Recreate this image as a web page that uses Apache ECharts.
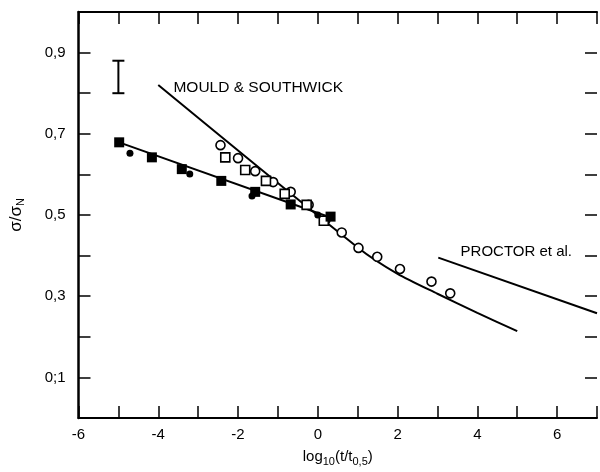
<!DOCTYPE html>
<html>
<head>
<meta charset="utf-8">
<script src="https://cdn.jsdelivr.net/npm/echarts@6/dist/echarts.min.js"></script>
<style>
  html, body { margin: 0; padding: 0; background: #fff; }
  #chart { width: 600px; height: 472px; }
</style>
</head>
<body>
<div id="chart"></div>
<script>
// data: x = log10(t/t0.5), y = sigma/sigmaN
const filledSquares = [[-4.98, 0.679], [-4.16, 0.642], [-3.41, 0.613], [-2.42, 0.584], [-1.57, 0.557], [-0.68, 0.526], [0.32, 0.496]];
const filledCircles = [[-4.71, 0.652], [-3.21, 0.601], [-1.65, 0.547], [0.0, 0.5]];
const openSquares = [[-2.32, 0.642], [-1.82, 0.611], [-1.3, 0.584], [-0.83, 0.552], [-0.28, 0.525], [0.15, 0.486]];
const openCircles = [[-2.44, 0.672], [-2.0, 0.64], [-1.57, 0.608], [-1.12, 0.581], [-0.68, 0.557], [-0.23, 0.525], [0.19, 0.487], [0.6, 0.457], [1.02, 0.419], [1.49, 0.397], [2.06, 0.367], [2.85, 0.336], [3.32, 0.307]];
const fitLine = [[-4.98, 0.679], [0.32, 0.494]];
const mouldLine = [[-4, 0.82], [1, 0.42], [2, 0.355], [3, 0.306], [4, 0.259], [5, 0.214]];
const proctorLine = [[3.02, 0.395], [7, 0.258]];
const errorBar = [[-5, 0.8, 0.88]];
const labelMould = [[-3.62, 0.813, "MOULD & SOUTHWICK"]];
const labelProctor = [[3.58, 0.409, "PROCTOR et al."]];
const yTickLabels = { 1: "0;1", 3: "0,3", 5: "0,5", 7: "0,7", 9: "0,9" };

const ink = "#000";
const font = "Liberation Sans";

var myChart = echarts.init(document.getElementById("chart"));

// scatter defaults to 0.8 opacity, force solid ink
const solid = (style) => Object.assign({ opacity: 1 }, style);

var option = {
  backgroundColor: "#fff",
  animation: false,
  grid: {
    left: 76,
    right: 2,
    top: 12,
    bottom: 49,
  },
  xAxis: [
    {
      type: "value",
      min: -6,
      max: 7,
      interval: 1,
      name: "{t|log}{s|10}{t|(t/t}{s|0,5}{t|)}",
      nameLocation: "middle",
      nameGap: 29,
      nameTextStyle: {
        rich: {
          t: { fontFamily: font, fontSize: 15, color: ink },
          s: { fontFamily: font, fontSize: 11, color: ink, padding: [9, 0, 0, 0] },
        },
      },
      axisLine: { onZero: false, lineStyle: { color: ink, width: 2 } },
      axisTick: { inside: true, length: 12, lineStyle: { color: ink, width: 1.5 } },
      axisLabel: {
        margin: 9,
        fontFamily: font,
        fontSize: 15,
        color: ink,
        formatter: (v) => (Math.round(v) % 2 === 0 ? String(v) : ""),
      },
      splitLine: { show: false },
    },
    {
      type: "value",
      position: "top",
      min: -6,
      max: 7,
      interval: 1,
      axisLine: { onZero: false, lineStyle: { color: ink, width: 2 } },
      axisTick: { inside: true, length: 12, lineStyle: { color: ink, width: 1.5 } },
      axisLabel: { show: false },
      splitLine: { show: false },
    },
  ],
  yAxis: [
    {
      type: "value",
      min: 0,
      max: 1,
      interval: 0.1,
      name: "{t|σ/σ}{s|N}",
      nameLocation: "middle",
      nameGap: 52,
      nameRotate: 90,
      nameTextStyle: {
        rich: {
          t: { fontFamily: font, fontSize: 17, color: ink },
          s: { fontFamily: font, fontSize: 11, color: ink, padding: [9, 0, 0, 0] },
        },
      },
      axisLine: { onZero: false, lineStyle: { color: ink, width: 2.5 } },
      axisTick: { inside: true, length: 12, lineStyle: { color: ink, width: 1.5 } },
      axisLabel: {
        margin: 13,
        fontFamily: font,
        fontSize: 15,
        color: ink,
        formatter: (v) => yTickLabels[Math.round(v * 10)] || "",
      },
      splitLine: { show: false },
    },
    {
      type: "value",
      position: "right",
      min: 0,
      max: 1,
      interval: 0.1,
      axisLine: { show: false, onZero: false },
      axisTick: { inside: true, length: 12, lineStyle: { color: ink, width: 1.5 } },
      axisLabel: { show: false },
      splitLine: { show: false },
    },
  ],
  series: [
    {
      type: "line",
      data: mouldLine,
      smooth: 0.25,
      symbol: "none",
      lineStyle: { color: ink, width: 2 },
    },
    {
      type: "line",
      data: proctorLine,
      symbol: "none",
      lineStyle: { color: ink, width: 2 },
    },
    {
      type: "line",
      data: fitLine,
      symbol: "none",
      lineStyle: { color: ink, width: 2 },
    },
    {
      type: "scatter",
      data: openCircles,
      symbol: "circle",
      symbolSize: 9,
      itemStyle: solid({ color: "#fff", borderColor: ink, borderWidth: 1.6 }),
      z: 3,
    },
    {
      type: "scatter",
      data: openSquares,
      symbol: "rect",
      symbolSize: 9,
      itemStyle: solid({ color: "#fff", borderColor: ink, borderWidth: 1.6 }),
      z: 3,
    },
    {
      type: "scatter",
      data: filledSquares,
      symbol: "rect",
      symbolSize: 10,
      itemStyle: solid({ color: ink }),
      z: 4,
    },
    {
      type: "scatter",
      data: filledCircles,
      symbol: "circle",
      symbolSize: 7,
      itemStyle: solid({ color: ink }),
      z: 4,
    },
    {
      type: "custom",
      data: errorBar,
      renderItem: (params, api) => {
        const lo = api.coord([api.value(0), api.value(1)]);
        const hi = api.coord([api.value(0), api.value(2)]);
        const w = 6;
        const style = { stroke: ink, lineWidth: 2 };
        return {
          type: "group",
          children: [
            { type: "line", shape: { x1: lo[0], y1: lo[1], x2: hi[0], y2: hi[1] }, style },
            { type: "line", shape: { x1: lo[0] - w, y1: lo[1], x2: lo[0] + w, y2: lo[1] }, style },
            { type: "line", shape: { x1: hi[0] - w, y1: hi[1], x2: hi[0] + w, y2: hi[1] }, style },
          ],
        };
      },
    },
    {
      type: "scatter",
      data: labelMould,
      symbolSize: 0,
      itemStyle: solid({}),
      label: {
        show: true,
        position: "right",
        distance: 0,
        formatter: (p) => p.value[2],
        fontFamily: font,
        fontSize: 15.5,
        color: ink,
        opacity: 1,
      },
    },
    {
      type: "scatter",
      data: labelProctor,
      symbolSize: 0,
      itemStyle: solid({}),
      label: {
        show: true,
        position: "right",
        distance: 0,
        formatter: (p) => p.value[2],
        fontFamily: font,
        fontSize: 15,
        color: ink,
        opacity: 1,
      },
    },
  ],
};

option && myChart.setOption(option);
</script>
</body>
</html>
